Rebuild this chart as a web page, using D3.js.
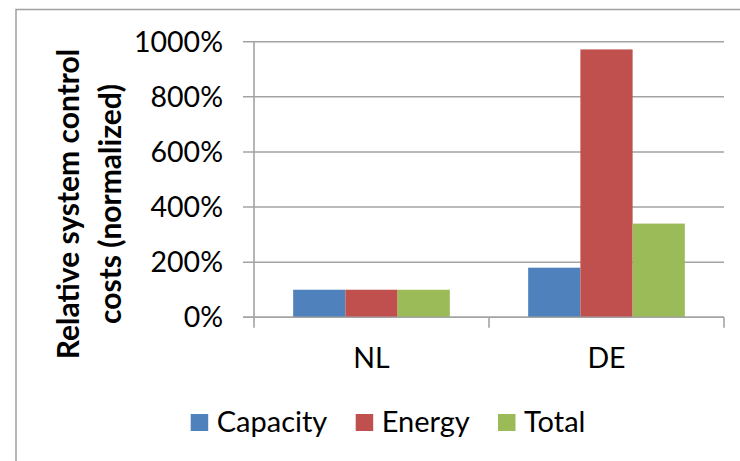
<!DOCTYPE html>
<html>
<head>
<meta charset="utf-8">
<script src="https://cdn.jsdelivr.net/npm/d3@7"></script>
<style>
  html, body { margin: 0; padding: 0; background: #fff; }
  svg { display: block; font-family: Lato, "Open Sans", sans-serif; }
</style>
</head>
<body>
<svg id="chart" width="740" height="461"></svg>
<script>
// ---- data ----
const categories = ["NL", "DE"];
const seriesNames = ["Capacity", "Energy", "Total"];
const capacityValues = [100, 180];
const energyValues = [100, 972];
const totalValues = [100, 340];
const yTicks = [0, 200, 400, 600, 800, 1000];
const seriesColors = ["#4F81BD", "#C0504D", "#9BBB59"];
const yTitleLines = ["Relative system control", "costs (normalized)"];

const seriesValues = [capacityValues, energyValues, totalValues];

// ---- layout ----
const svg = d3.select("#chart");
const plot = { left: 254, right: 724, top: 41.7, bottom: 317.3 };
const gridColor = "#a3a3a3";

// frame
svg.append("path")
  .attr("d", "M16,461 L16,9.5 L740,9.5")
  .attr("fill", "none").attr("stroke", "#a0a0a0").attr("stroke-width", 1.5);

const x0 = d3.scaleBand().domain(categories).range([plot.left, plot.right]).paddingInner(0).paddingOuter(0);
const x1 = d3.scaleBand().domain(seriesNames).range([0, x0.bandwidth()]).paddingInner(0).paddingOuter(0.75);
const y = d3.scaleLinear().domain([0, 1000]).range([plot.bottom, plot.top]);

// gridlines + y ticks
const grid = svg.append("g");
grid.selectAll("line").data(yTicks).join("line")
  .attr("x1", plot.left - 11).attr("x2", plot.right)
  .attr("y1", d => y(d)).attr("y2", d => y(d))
  .attr("stroke", gridColor).attr("stroke-width", 1.6);

// y axis line
svg.append("line")
  .attr("x1", plot.left).attr("x2", plot.left)
  .attr("y1", plot.top).attr("y2", plot.bottom + 10.5)
  .attr("stroke", gridColor).attr("stroke-width", 1.6);

// y tick labels
svg.append("g").selectAll("text").data(yTicks).join("text")
  .attr("x", 223).attr("y", d => y(d))
  .attr("dy", "0.35em")
  .attr("text-anchor", "end")
  .attr("font-size", 28.5).attr("fill", "#000")
  .text(d => d + "%");

// bars
const groups = svg.append("g").selectAll("g").data(categories).join("g")
  .attr("transform", d => `translate(${x0(d)},0)`);
groups.selectAll("rect")
  .data((c, i) => seriesNames.map((s, j) => ({ s, v: seriesValues[j][i], color: seriesColors[j] })))
  .join("rect")
  .attr("x", d => x1(d.s))
  .attr("width", x1.bandwidth())
  .attr("y", d => y(d.v))
  .attr("height", d => y(0) - y(d.v))
  .attr("fill", d => d.color);

// x axis line + category ticks
svg.append("line")
  .attr("x1", plot.left - 11).attr("x2", plot.right)
  .attr("y1", plot.bottom).attr("y2", plot.bottom)
  .attr("stroke", gridColor).attr("stroke-width", 1.6);
const boundaries = categories.map(c => x0(c) + x0.bandwidth());
svg.append("g").selectAll("line").data(boundaries).join("line")
  .attr("x1", d => d).attr("x2", d => d)
  .attr("y1", plot.bottom).attr("y2", plot.bottom + 10.5)
  .attr("stroke", gridColor).attr("stroke-width", 1.6);

// category labels
svg.append("g").selectAll("text").data(categories).join("text")
  .attr("x", d => x0(d) + x0.bandwidth() / 2)
  .attr("y", 368)
  .attr("text-anchor", "middle")
  .attr("font-size", 28.5).attr("fill", "#000")
  .text(d => d);

// y title
const yt = svg.append("text")
  .attr("transform", "translate(68,204) rotate(-90)")
  .attr("text-anchor", "middle")
  .attr("font-size", 30).attr("font-weight", "bold").attr("fill", "#000");
yt.selectAll("tspan").data(yTitleLines).join("tspan")
  .attr("x", 0)
  .attr("y", (d, i) => i * 42)
  .attr("dy", "0.35em")
  .text(d => d);

// legend
const legendItems = [
  { name: seriesNames[0], color: seriesColors[0], x: 190.7 },
  { name: seriesNames[1], color: seriesColors[1], x: 355.7 },
  { name: seriesNames[2], color: seriesColors[2], x: 498 }
];
const lg = svg.append("g").selectAll("g").data(legendItems).join("g")
  .attr("transform", d => `translate(${d.x},0)`);
lg.append("rect").attr("x", 0).attr("y", 414).attr("width", 17.5).attr("height", 17)
  .attr("fill", d => d.color);
lg.append("text").attr("x", 26).attr("y", 431.5)
  .attr("font-size", 29).attr("fill", "#000")
  .text(d => d.name);
</script>
</body>
</html>
